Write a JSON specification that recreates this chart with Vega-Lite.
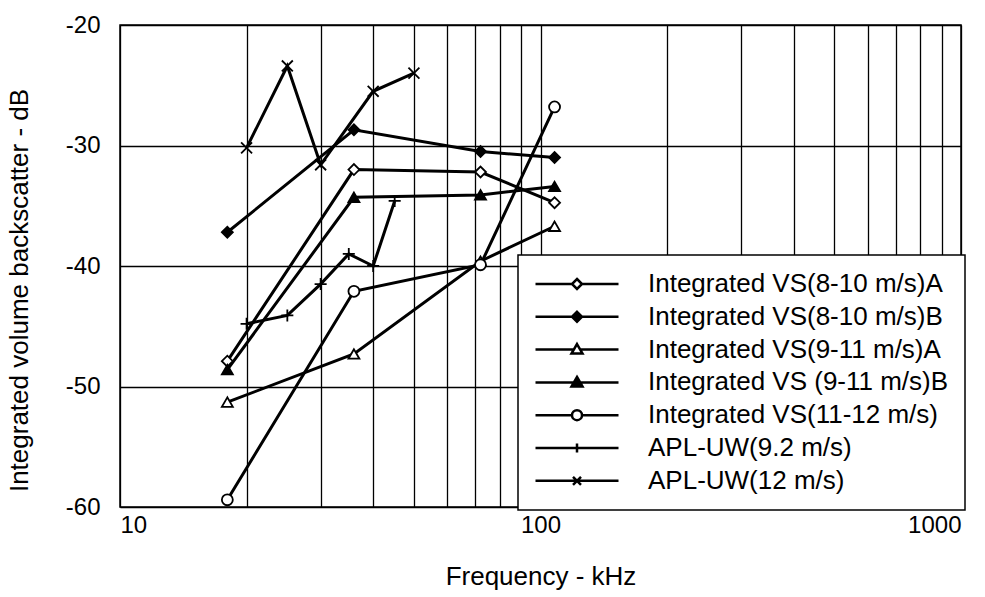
{
  "$schema": "https://vega.github.io/schema/vega-lite/v6.json",
  "autosize": {"type": "none"},
  "width": 841,
  "height": 482,
  "padding": {"left": 120, "top": 25, "right": 24, "bottom": 90},
  "background": "white",
  "config": {
    "font": "Liberation Sans",
    "view": {"stroke": "black", "strokeWidth": 1.5},
    "axis": {
      "domain": false,
      "ticks": false,
      "grid": true,
      "gridColor": "black",
      "gridWidth": 1.3,
      "gridOpacity": 1,
      "labelFont": "Liberation Sans",
      "labelColor": "black",
      "labelFontSize": 24,
      "titleFont": "Liberation Sans",
      "titleColor": "black",
      "titleFontSize": 26,
      "titleFontWeight": "normal"
    },
    "legend": {
      "orient": "none",
      "legendX": 398,
      "legendY": 230,
      "strokeColor": "black",
      "strokeWidth": 1.5,
      "fillColor": "white",
      "padding": 16,
      "rowPadding": 6.8,
      "labelFont": "Liberation Sans",
      "labelFontSize": 26,
      "labelColor": "black",
      "labelLimit": 0,
      "symbolSize": 100,
      "symbolStrokeWidth": 2.5,
      "symbolOffset": 30,
      "labelOffset": 58
    }
  },
  "data": {
    "values": [
      {"s": "Integrated VS(8-10 m/s)A", "f": 18, "v": -47.9},
      {"s": "Integrated VS(8-10 m/s)A", "f": 36, "v": -32.0},
      {"s": "Integrated VS(8-10 m/s)A", "f": 72, "v": -32.2},
      {"s": "Integrated VS(8-10 m/s)A", "f": 108, "v": -34.75},
      {"s": "Integrated VS(8-10 m/s)B", "f": 18, "v": -37.2},
      {"s": "Integrated VS(8-10 m/s)B", "f": 36, "v": -28.7},
      {"s": "Integrated VS(8-10 m/s)B", "f": 72, "v": -30.5},
      {"s": "Integrated VS(8-10 m/s)B", "f": 108, "v": -31.0},
      {"s": "Integrated VS(9-11 m/s)A", "f": 18, "v": -51.3},
      {"s": "Integrated VS(9-11 m/s)A", "f": 36, "v": -47.3},
      {"s": "Integrated VS(9-11 m/s)A", "f": 72, "v": -39.6},
      {"s": "Integrated VS(9-11 m/s)A", "f": 108, "v": -36.7},
      {"s": "Integrated VS (9-11 m/s)B", "f": 18, "v": -48.6},
      {"s": "Integrated VS (9-11 m/s)B", "f": 36, "v": -34.3},
      {"s": "Integrated VS (9-11 m/s)B", "f": 72, "v": -34.1},
      {"s": "Integrated VS (9-11 m/s)B", "f": 108, "v": -33.4},
      {"s": "Integrated VS(11-12 m/s)", "f": 18, "v": -59.4},
      {"s": "Integrated VS(11-12 m/s)", "f": 36, "v": -42.1},
      {"s": "Integrated VS(11-12 m/s)", "f": 72, "v": -39.9},
      {"s": "Integrated VS(11-12 m/s)", "f": 108, "v": -26.8},
      {"s": "APL-UW(9.2 m/s)", "f": 20, "v": -44.8},
      {"s": "APL-UW(9.2 m/s)", "f": 25, "v": -44.1},
      {"s": "APL-UW(9.2 m/s)", "f": 30, "v": -41.5},
      {"s": "APL-UW(9.2 m/s)", "f": 35, "v": -39.0},
      {"s": "APL-UW(9.2 m/s)", "f": 40, "v": -40.0},
      {"s": "APL-UW(9.2 m/s)", "f": 45, "v": -34.6},
      {"s": "APL-UW(12 m/s)", "f": 20, "v": -30.2},
      {"s": "APL-UW(12 m/s)", "f": 25, "v": -23.4},
      {"s": "APL-UW(12 m/s)", "f": 30, "v": -31.6},
      {"s": "APL-UW(12 m/s)", "f": 40, "v": -25.5},
      {"s": "APL-UW(12 m/s)", "f": 50, "v": -24.0}
    ]
  },
  "encoding": {
    "x": {
      "field": "f",
      "type": "quantitative",
      "title": "Frequency - kHz",
      "scale": {"type": "log", "domain": [10, 1000], "nice": false},
      "axis": {
        "values": [10, 20, 30, 40, 50, 60, 70, 80, 90, 100, 200, 300, 400, 500, 600, 700, 800, 900, 1000],
        "labelExpr": "datum.value == 10 || datum.value == 100 || datum.value == 1000 ? '' + datum.value : ''",
        "labelOverlap": false,
        "labelPadding": 6,
        "titlePadding": 26
      }
    },
    "y": {
      "field": "v",
      "type": "quantitative",
      "title": "Integrated volume backscatter - dB",
      "scale": {"domain": [-60, -20], "nice": false, "zero": false},
      "axis": {
        "values": [-60, -50, -40, -30, -20],
        "labelExpr": "'' + datum.value",
        "labelPadding": 20,
        "titlePadding": 33,
        "titleY": 265
      }
    }
  },
  "layer": [
    {
      "mark": {"type": "line", "stroke": "black", "strokeWidth": 3},
      "encoding": {"detail": {"field": "s", "type": "nominal"}}
    },
    {
      "mark": {"type": "point", "size": 120, "stroke": "black", "strokeWidth": 1.8, "opacity": 1, "filled": false},
      "encoding": {
        "shape": {
          "field": "s",
          "type": "nominal",
          "legend": null,
          "scale": {
            "domain": ["Integrated VS(8-10 m/s)A", "Integrated VS(8-10 m/s)B", "Integrated VS(9-11 m/s)A", "Integrated VS (9-11 m/s)B", "Integrated VS(11-12 m/s)", "APL-UW(9.2 m/s)", "APL-UW(12 m/s)"],
            "range": ["diamond", "diamond", "triangle-up", "triangle-up", "circle", "M-1.1,0H1.1M0,-1.1V1.1", "M-1,-1L1,1M-1,1L1,-1"]
          }
        },
        "fill": {
          "field": "s",
          "type": "nominal",
          "legend": null,
          "scale": {
            "domain": ["Integrated VS(8-10 m/s)A", "Integrated VS(8-10 m/s)B", "Integrated VS(9-11 m/s)A", "Integrated VS (9-11 m/s)B", "Integrated VS(11-12 m/s)", "APL-UW(9.2 m/s)", "APL-UW(12 m/s)"],
            "range": ["white", "black", "white", "black", "white", "black", "black"]
          }
        }
      }
    },
    {
      "transform": [{"filter": "false"}],
      "mark": {"type": "point", "size": 100, "stroke": "black", "strokeWidth": 2.5, "opacity": 1, "filled": false},
      "encoding": {
        "shape": {
          "field": "s",
          "type": "nominal",
          "legend": {
            "title": null,
            "encode": {"symbols": {"stroke": {"value": "black"}, "strokeWidth": {"value": 2.5}, "opacity": {"value": 1}}}
          },
          "scale": {
            "domain": ["Integrated VS(8-10 m/s)A", "Integrated VS(8-10 m/s)B", "Integrated VS(9-11 m/s)A", "Integrated VS (9-11 m/s)B", "Integrated VS(11-12 m/s)", "APL-UW(9.2 m/s)", "APL-UW(12 m/s)"],
            "range": [
              "M-8.3,0H-1M1,0H8.3M0,-1L1,0L0,1L-1,0Z",
              "M-8.3,0H-1M1,0H8.3M0,-1L1,0L0,1L-1,0Z",
              "M-8.3,0H-0.7M0.7,0H8.3M0,-1.1L1.1,0.8L-1.1,0.8Z",
              "M-8.3,0H-0.7M0.7,0H8.3M0,-1.1L1.1,0.8L-1.1,0.8Z",
              "M-8.3,0H-1M1,0H8.3M1,0A1,1,0,1,1,-1,0A1,1,0,1,1,1,0Z",
              "M-8.3,0H8.3M0,-0.9V0.9",
              "M-8.3,0H8.3M-0.8,-0.8L0.8,0.8M-0.8,0.8L0.8,-0.8"
            ]
          }
        },
        "fill": {
          "field": "s",
          "type": "nominal",
          "legend": {
            "title": null,
            "encode": {"symbols": {"stroke": {"value": "black"}, "strokeWidth": {"value": 2.5}, "opacity": {"value": 1}}}
          },
          "scale": {
            "domain": ["Integrated VS(8-10 m/s)A", "Integrated VS(8-10 m/s)B", "Integrated VS(9-11 m/s)A", "Integrated VS (9-11 m/s)B", "Integrated VS(11-12 m/s)", "APL-UW(9.2 m/s)", "APL-UW(12 m/s)"],
            "range": ["white", "black", "white", "black", "white", "black", "black"]
          }
        }
      }
    }
  ],
  "resolve": {"scale": {"shape": "independent", "fill": "independent"}}
}
